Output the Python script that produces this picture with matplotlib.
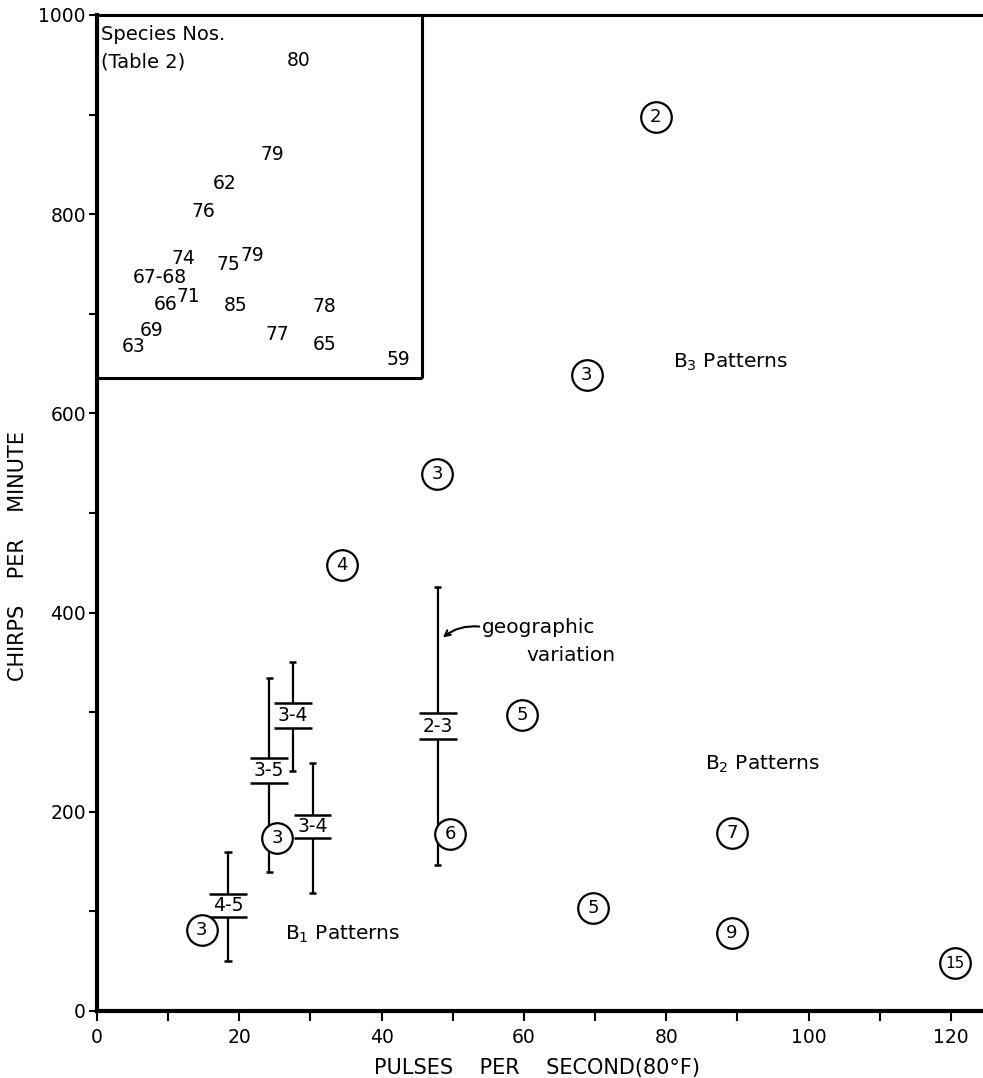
import matplotlib.pyplot as plt

# circled points: pulses per second, chirps per minute, number of species
circle_x = [78.5, 68.8, 47.8, 34.4, 59.7, 49.6, 89.2, 25.3, 69.7, 89.2, 14.7, 120.5]
circle_y = [898, 639, 539, 448, 297, 178, 179, 174, 103, 78, 81, 48]
circle_n = ["2", "3", "3", "4", "5", "6", "7", "3", "5", "9", "3", "15"]

# range bars (geographic variation) with a bracketed species count
bar_x = [18.4, 24.2, 27.5, 30.3, 47.9]
bar_lo = [50, 140, 241, 118, 147]
bar_hi = [160, 334, 350, 249, 426]
box_lo = [94, 229, 284, 174, 273]
box_hi = [117, 254, 309, 197, 299]
bar_lbl = ["4-5", "3-5", "3-4", "3-4", "2-3"]

# species numbers (Table 2) in the inset corner
species_x = [28.4, 24.7, 18.0, 15.0, 12.2, 18.4, 21.9, 8.8, 9.7, 12.9,
             19.5, 32.0, 7.7, 5.1, 25.3, 32.0, 42.4]
species_y = [954, 860, 831, 803, 756, 749, 759, 736, 709, 717,
             708, 707, 683, 667, 679, 669, 654]
species_lbl = ["80", "79", "62", "76", "74", "75", "79", "67-68", "66", "71",
               "85", "78", "69", "63", "77", "65", "59"]

# pattern group labels
group_lbl = ["B$_3$ Patterns", "B$_2$ Patterns", "B$_1$ Patterns"]
group_x = [81.0, 85.4, 26.4]
group_y = [651, 248, 77]

INSET_RIGHT = 45.6
INSET_BOTTOM = 636

W, H = 983, 1078
fig = plt.figure(figsize=(W / 100, H / 100), dpi=100)
ax = fig.add_axes([97 / W, 1 - 1011 / H, 886 / W, (1011 - 15) / H])

ax.set_xlim(0, 124.5)
ax.set_ylim(0, 1000)

for side in ["left", "bottom"]:
    ax.spines[side].set_linewidth(3.0)
ax.spines["top"].set_linewidth(2.2)
ax.spines["right"].set_visible(False)

ax.set_xticks(range(0, 121, 20))
ax.set_xticks(range(10, 121, 20), minor=True)
ax.set_yticks(range(0, 1001, 200))
ax.set_yticks(range(100, 1000, 200), minor=True)
ax.tick_params(which="both", direction="out", length=7, width=1.5,
               labelsize=13.5, pad=5)
ax.tick_params(axis="y", which="both", length=6, pad=2)

# inset frame
ax.plot([INSET_RIGHT, INSET_RIGHT], [INSET_BOTTOM, 1000], color="black", lw=2.2,
        solid_capstyle="butt", clip_on=False)
ax.plot([0, INSET_RIGHT], [INSET_BOTTOM, INSET_BOTTOM], color="black", lw=2.2,
        solid_capstyle="butt", clip_on=False)
ax.text(0.5, 980, "Species Nos.", fontsize=14, ha="left", va="center")
ax.text(0.5, 953, "(Table 2)", fontsize=14, ha="left", va="center")
for x, y, s in zip(species_x, species_y, species_lbl):
    ax.text(x, y, s, fontsize=13.5, ha="center", va="center")

# range bars
cap = 0.5
half = 2.65
for x, lo, hi, b0, b1, s in zip(bar_x, bar_lo, bar_hi, box_lo, box_hi, bar_lbl):
    ax.vlines(x, lo, b0, color="black", lw=1.6, zorder=1)
    ax.vlines(x, b1, hi, color="black", lw=1.6, zorder=1)
    ax.hlines([lo, hi], x - cap, x + cap, color="black", lw=1.8, zorder=1)
    ax.hlines([b0, b1], x - half, x + half, color="black", lw=1.8, zorder=1)
    ax.text(x, (b0 + b1) / 2, s, fontsize=13.5, ha="center", va="center", zorder=2)

# circled species counts
ax.plot(circle_x, circle_y, "o", ms=22, mfc="white", mec="black", mew=1.6,
        ls="none", zorder=3, clip_on=False)
for x, y, n in zip(circle_x, circle_y, circle_n):
    ax.text(x, y, n, fontsize=13 if len(n) == 1 else 11, ha="center", va="center",
            zorder=4)

for s, x, y in zip(group_lbl, group_x, group_y):
    ax.text(x, y, s, fontsize=14.5, ha="left", va="center")

ax.text(54.1, 385, "geographic", fontsize=14.5, ha="left", va="center")
ax.text(60.3, 357, "variation", fontsize=14.5, ha="left", va="center")
ax.annotate("", xy=(48.6, 375), xytext=(53.7, 386),
            arrowprops=dict(arrowstyle="->", lw=1.5, color="black",
                            connectionstyle="arc3,rad=0.2",
                            shrinkA=0, shrinkB=0))

fig.text(537 / W, 1 - 1068 / H, "PULSES    PER    SECOND(80°F)", fontsize=15,
         ha="center", va="center")
fig.text(18 / W, 1 - 556 / H, "CHIRPS    PER    MINUTE", fontsize=15, rotation=90,
         ha="center", va="center")

fig.savefig("out.png", dpi=100)
